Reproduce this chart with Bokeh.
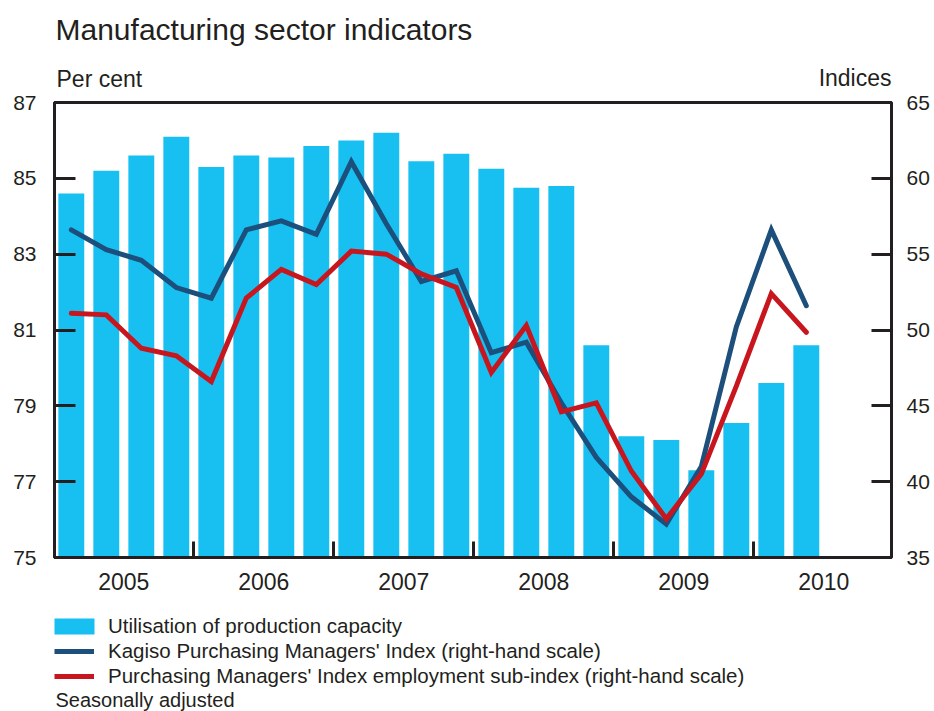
import numpy as np
from bokeh.plotting import figure
from bokeh.layouts import column
from bokeh.models import (Range1d, LinearAxis, FixedTicker, CustomJSTickFormatter,
                          Legend, LegendItem, ColumnDataSource)
from bokeh.core.properties import value
from bokeh.embed import file_html
from bokeh.resources import INLINE

# ---------------- data (quarterly, 2005Q1 - 2010Q2) ----------------
years = ["2005", "2006", "2007", "2008", "2009", "2010"]
capacity = [84.6, 85.2, 85.6, 86.1, 85.3, 85.6, 85.55, 85.85,
            86.0, 86.2, 85.45, 85.65, 85.25, 84.75, 84.8, 80.6,
            78.2, 78.1, 77.3, 78.55, 79.6, 80.6]
kagiso_pmi = [56.6, 55.3, 54.6, 52.8, 52.1, 56.6, 57.2, 56.3,
              61.1, 57.0, 53.2, 53.9, 48.5, 49.2, 45.2, 41.6,
              39.0, 37.2, 41.0, 50.2, 56.6, 51.6]
pmi_employment = [51.1, 51.0, 48.8, 48.3, 46.6, 52.1, 54.0, 53.0,
                  55.2, 55.0, 53.7, 52.8, 47.2, 50.3, 44.6, 45.2,
                  40.7, 37.55, 40.5, 46.3, 52.4, 49.85]
left_ticks = [75, 77, 79, 81, 83, 85, 87]
right_ticks = [35, 40, 45, 50, 55, 60, 65]
series_names = ["Utilisation of production capacity",
                "Kagiso Purchasing Managers' Index (right-hand scale)",
                "Purchasing Managers' Index employment sub-index (right-hand scale)"]
quarters = list(range(len(capacity)))

FONT = "Liberation Sans"
TXT = "#231f20"
BAR = "#17c0f1"
BLUE = "#1c4f7b"
RED = "#c8161e"
W = 934
FL, FR = 54, 891          # frame left / right edge in page pixels
HEAD_H, FOOT_H = 90, 111


def blank(height):
    f = figure(width=W, height=height, output_backend="svg", toolbar_location=None,
               x_range=Range1d(FL, FR), y_range=Range1d(height, 0),
               x_axis_location=None, y_axis_location=None,
               min_border_left=FL, min_border_right=W - FR,
               min_border_top=0, min_border_bottom=0)
    f.grid.visible = False
    f.outline_line_color = None
    return f


# ---------------- header (title and unit captions) ----------------
head = blank(HEAD_H)
head.text(x=[55], y=[28.5], text=["Manufacturing sector indicators"],
          text_font=value(FONT), text_font_size="30px", text_color=TXT,
          text_align="left", text_baseline="middle")
head.text(x=[56], y=[78], text=["Per cent"],
          text_font=value(FONT), text_font_size="23px", text_color=TXT,
          text_align="left", text_baseline="middle")
head.text(x=[FR], y=[77], text=["Indices"],
          text_font=value(FONT), text_font_size="23px", text_color=TXT,
          text_align="right", text_baseline="middle")

# ---------------- main chart ----------------
src = ColumnDataSource(dict(q=quarters, cap=capacity, kag=kagiso_pmi, emp=pmi_employment))

p = figure(width=W, height=510, output_backend="svg", toolbar_location=None,
           x_range=Range1d(-0.48, 23.434), y_range=Range1d(left_ticks[0], left_ticks[-1]),
           min_border_left=FL, min_border_right=W - FR, min_border_top=12, min_border_bottom=43)
p.extra_y_ranges = {"idx": Range1d(right_ticks[0], right_ticks[-1])}
p.grid.visible = False
p.outline_line_color = TXT
p.outline_line_width = 3
p.outline_line_alpha = 1

p.vbar(x="q", top="cap", bottom=left_ticks[0], width=0.74, source=src,
       fill_color=BAR, line_color=None)
p.line(x="q", y="kag", source=src, y_range_name="idx", line_color=BLUE,
       line_width=5, line_join="miter", line_cap="round")
p.line(x="q", y="emp", source=src, y_range_name="idx", line_color=RED,
       line_width=5, line_join="miter", line_cap="round")

# x axis: labels centred on each year, tick marks at year boundaries
xa = p.xaxis[0]
xa.ticker = FixedTicker(ticks=[i * 4 + 1.5 for i in range(len(years))],
                        minor_ticks=[i * 4 + 3.5 for i in range(len(years) - 1)])
xa.formatter = CustomJSTickFormatter(args=dict(labels=years), code="""
    const i = Math.round((tick - 1.5) / 4);
    return (i >= 0 && i < labels.length) ? labels[i] : '';
""")
xa.major_tick_line_color = None
xa.minor_tick_line_color = TXT
xa.minor_tick_line_width = 3
xa.minor_tick_in = 16
xa.minor_tick_out = 0
xa.axis_line_color = TXT
xa.axis_line_width = 3
xa.major_label_standoff = 9
xa.major_label_text_font = FONT
xa.major_label_text_font_size = "23px"
xa.major_label_text_color = TXT

ya = p.yaxis[0]
ya.ticker = FixedTicker(ticks=left_ticks)
ya.major_tick_in = 21
ya.major_tick_out = 0
ya.major_tick_line_width = 3
ya.major_tick_line_color = TXT
ya.minor_tick_line_color = None
ya.axis_line_color = TXT
ya.axis_line_width = 3
ya.major_label_standoff = 18
ya.major_label_text_font = FONT
ya.major_label_text_font_size = "21px"
ya.major_label_text_color = TXT

ra = LinearAxis(y_range_name="idx", ticker=FixedTicker(ticks=right_ticks))
ra.major_tick_in = 20
ra.major_tick_out = 0
ra.major_tick_line_width = 3
ra.major_tick_line_color = TXT
ra.minor_tick_line_color = None
ra.axis_line_color = TXT
ra.axis_line_width = 3
ra.major_label_standoff = 15
ra.major_label_text_font = FONT
ra.major_label_text_font_size = "21px"
ra.major_label_text_color = TXT
p.add_layout(ra, "right")

# ---------------- footer (legend and note) ----------------
foot = blank(FOOT_H)
nan = np.array([np.nan])
sw_bar = foot.vbar(x=nan, top=nan, width=1, fill_color=BAR, line_color=None)
sw_kag = foot.line(x=nan, y=nan, line_color=BLUE, line_width=5)
sw_emp = foot.line(x=nan, y=nan, line_color=RED, line_width=5)

common = dict(orientation="vertical", label_height=25, spacing=0, padding=0, margin=0,
              border_line_color=None, background_fill_alpha=0, label_text_font=FONT,
              label_text_font_size="20.5px", label_text_color=TXT)
leg_bar = Legend(items=[LegendItem(label=series_names[0], renderers=[sw_bar])],
                 location=(-5, 73), glyph_width=50, glyph_height=20, label_standoff=9, **common)
leg_lines = Legend(items=[LegendItem(label=series_names[1], renderers=[sw_kag]),
                          LegendItem(label=series_names[2], renderers=[sw_emp])],
                   location=(0, 23), glyph_width=40, glyph_height=20, label_standoff=14, **common)
foot.add_layout(leg_bar, "center")
foot.add_layout(leg_lines, "center")
foot.text(x=[55], y=[99], text=["Seasonally adjusted"],
          text_font=value(FONT), text_font_size="20px", text_color=TXT,
          text_align="left", text_baseline="middle")

layout = column(head, p, foot, spacing=0)
open("out.html", "w").write(file_html(layout, INLINE))
